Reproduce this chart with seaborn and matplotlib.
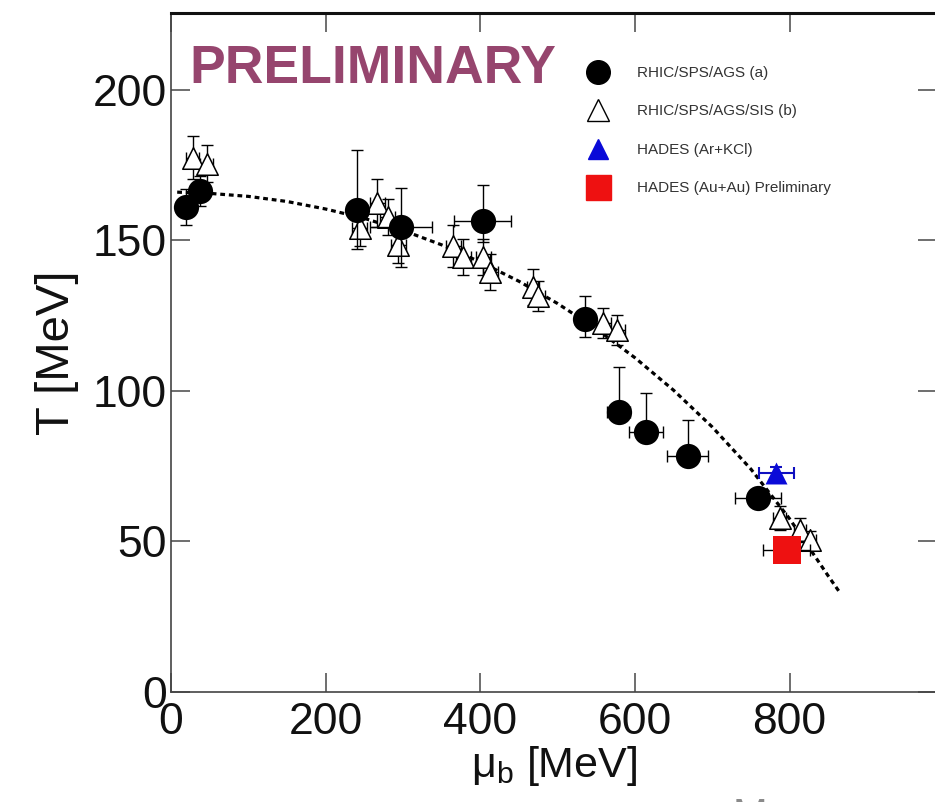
import numpy as np
import pandas as pd
import matplotlib
matplotlib.use("Agg")
import matplotlib.pyplot as plt
from matplotlib.lines import Line2D
import seaborn as sns

# ---------------- data ----------------
# RHIC/SPS/AGS (a) - filled circles
circ_mu = [20, 38, 240, 297, 403, 535, 579, 614, 668, 759]
circ_T = [161, 166.5, 160, 154.5, 156.5, 124, 93, 86.4, 78.4, 64.4]
circ_T_lo = [6, 5, 13, 13.5, 7, 6, 3, 3, 3, 3]
circ_T_hi = [6, 5, 20, 13, 12, 7.5, 15, 13, 12, 3]
circ_mu_err = [5, 5, 5, 40, 37, 12, 15, 22, 26, 30]

# RHIC/SPS/AGS/SIS (b) - open triangles
tri_mu = [28, 46, 244, 267, 280, 294, 365, 378, 404, 413, 468, 475, 559, 577, 787, 813, 826]
tri_T = [177.5, 175.5, 154, 162.5, 157.8, 148.5, 148, 144.5, 144.5, 139.5, 134.5, 131.5,
         122.6, 120.3, 57.8, 53.8, 50.5]
tri_T_err = [7, 6, 6, 8, 6, 6, 7, 6, 6, 6, 6, 5, 5, 5, 4, 4, 3]
tri_mu_err = [8, 8, 10, 10, 10, 10, 10, 10, 10, 10, 8, 8, 10, 10, 8, 8, 8]

# HADES (Ar+KCl)
ark_mu = [783]
ark_T = [72.8]
ark_T_err = [2]
ark_mu_err = [22]

# HADES (Au+Au) Preliminary
auau_mu = [796]
auau_T = [47.2]
auau_T_err = [3]
auau_mu_err = [30]

# freeze-out curve
curve_mu = [8, 50, 100, 150, 200, 250, 300, 350, 400, 450, 500, 550, 600, 650, 700, 750, 800, 850, 865]
curve_T = [166, 165.6, 164.6, 162.9, 160.4, 157.3, 153.3, 148.5, 142.8, 136.4, 129, 120.6, 111, 100.2,
           88, 74, 57.5, 38.5, 33]

x_ticks = [0, 200, 400, 600, 800]
y_ticks = [0, 50, 100, 150, 200]
legend_labels = ["RHIC/SPS/AGS (a)", "RHIC/SPS/AGS/SIS (b)", "HADES (Ar+KCl)",
                 "HADES (Au+Au) Preliminary"]

# ---------------- style ----------------
sns.set_theme(style="ticks")
plt.rcParams["font.family"] = ["Liberation Sans", "DejaVu Sans"]
plt.rcParams["mathtext.fontset"] = "custom"
plt.rcParams["mathtext.rm"] = "Liberation Sans"
plt.rcParams["mathtext.it"] = "Liberation Sans:italic"

W, H = 935, 802
fig = plt.figure(figsize=(W / 100, H / 100), dpi=100)
px_per_mev = 0.7733
x_max = 990
left_px, top_px, bottom_px = 171, 13, 692
right_px = left_px + x_max * px_per_mev
ax = fig.add_axes([left_px / W, 1 - bottom_px / H, (right_px - left_px) / W, (bottom_px - top_px) / H])

ax.set_xlim(0, x_max)
ax.set_ylim(0, 225.5)

# curve
sns.lineplot(x=curve_mu, y=curve_T, ax=ax, color="black", lw=2.3,
             linestyle=(0, (1.5, 1.2)), zorder=2, sort=False)

eb_kw = dict(fmt="none", ecolor="black", elinewidth=1.0, capsize=4.5, capthick=1.0)

# triangles
ax.errorbar(tri_mu, tri_T, yerr=tri_T_err, xerr=tri_mu_err, zorder=3, **eb_kw)
df_tri = pd.DataFrame({"mu": tri_mu, "T": tri_T})
sns.scatterplot(data=df_tri, x="mu", y="T", ax=ax, marker="^", s=240,
                facecolor="white", edgecolor="black", linewidth=1.1, zorder=4)

# circles
ax.errorbar(circ_mu, circ_T, yerr=[circ_T_lo, circ_T_hi], xerr=circ_mu_err, zorder=5, **eb_kw)
df_c = pd.DataFrame({"mu": circ_mu, "T": circ_T})
sns.scatterplot(data=df_c, x="mu", y="T", ax=ax, marker="o", s=330,
                color="black", edgecolor="black", linewidth=0, zorder=6)

# HADES Ar+KCl
ax.errorbar(ark_mu, ark_T, yerr=ark_T_err, xerr=ark_mu_err, zorder=7,
            fmt="none", ecolor="#1010c0", elinewidth=1.5, capsize=4, capthick=1.5)
sns.scatterplot(x=ark_mu, y=ark_T, ax=ax, marker="^", s=250, color="#0a0ad8",
                edgecolor="#0a0ad8", linewidth=0, zorder=8)

# HADES Au+Au
ax.errorbar(auau_mu, auau_T, yerr=auau_T_err, xerr=auau_mu_err, zorder=7, **eb_kw)
sns.scatterplot(x=auau_mu, y=auau_T, ax=ax, marker="s", s=400, color="#ee1111",
                edgecolor="#ee1111", linewidth=0, zorder=8)

# axes styling
ax.set_xticks(x_ticks)
ax.set_yticks(y_ticks)
ax.tick_params(axis="both", which="major", direction="in", length=14, width=1.2,
               color="#555555", labelsize=32, top=True, right=True, labelcolor="#111111")
ax.tick_params(axis="x", pad=7)
ax.tick_params(axis="y", pad=3)
for side in ["left", "bottom", "right"]:
    ax.spines[side].set_linewidth(1.2)
    ax.spines[side].set_color("#444444")
ax.spines["top"].set_linewidth(2.2)
ax.spines["top"].set_color("#111111")

ax.set_xlabel(r"$\mathrm{μ}_{\mathrm{b}}$ [MeV]", fontsize=31, labelpad=1, color="#111111")
ax.set_ylabel("T [MeV]", fontsize=34, labelpad=10, color="#111111")

ax.text(189 / W, 1 - 69 / H, "PRELIMINARY", transform=fig.transFigure, fontsize=38.5,
        fontweight="bold", color="#96456E", va="center", ha="left",
        family=["Liberation Sans", "DejaVu Sans"])

# legend
handles = [
    Line2D([], [], marker="o", ls="none", markersize=17, markerfacecolor="black",
           markeredgecolor="black"),
    Line2D([], [], marker="^", ls="none", markersize=16, markerfacecolor="white",
           markeredgecolor="black", markeredgewidth=1.0),
    Line2D([], [], marker="^", ls="none", markersize=15, markerfacecolor="#0a0ad8",
           markeredgecolor="#0a0ad8"),
    Line2D([], [], marker="s", ls="none", markersize=18, markerfacecolor="#ee1111",
           markeredgecolor="#ee1111"),
]
leg = fig.legend(handles, legend_labels, loc="upper left",
                 bbox_to_anchor=(583 / W, 1 - 66 / H), frameon=False, fontsize=11,
                 labelspacing=1.6, handlelength=2.0, handletextpad=1.55, borderpad=0,
                 borderaxespad=0)
for t in leg.get_texts():
    t.set_color("#333333")

# cut-off gray text at the bottom edge
fig.text(733 / W, 1 - 797 / H, "Ma", fontsize=30, color="#8a8a8a", va="top", ha="left")

fig.savefig("out.png", dpi=100)
